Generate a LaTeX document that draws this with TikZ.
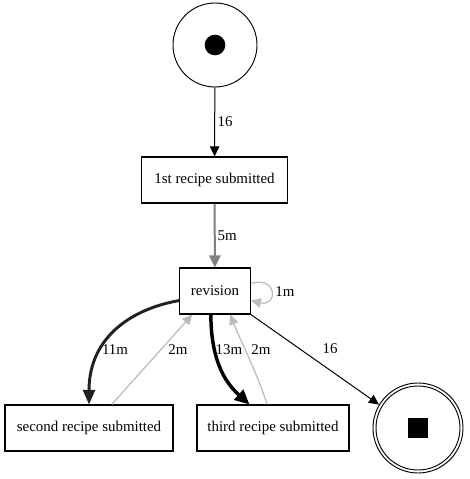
\documentclass[tikz,border=0pt]{standalone}
\usepackage{fontspec}
\setmainfont{Liberation Serif}
\usetikzlibrary{positioning,arrows.meta}

\begin{document}
\begin{tikzpicture}
        [x=0.75pt, y=-0.75pt, font=\rmfamily\fontsize{11.2}{13}\selectfont,
        activity/.style={rectangle, draw=black, line width=0.8pt,
        minimum height=34.5pt, inner sep=2pt},
        place/.style={circle, draw=black, line width=0.7pt, inner sep=0pt},
        flow/.style={draw=black, line width=0.75pt,
        -{Triangle[length=7.5pt, width=7pt]}},
        faint/.style={draw=black!27, line width=0.9pt,
        -{Triangle[length=7.5pt, width=7pt]}},
        lbl/.style={inner sep=1pt}]
        \useasboundingbox (0,0) rectangle (470,479);
        % places
        \node[place, minimum size=63pt] (start) at (215,45) {};
        \node[circle, fill=black, minimum size=15.5pt, inner sep=0pt] (token) at (start) {};
        \node[place, minimum size=67.5pt] (end) at (418,428) {};
        \node[place, minimum size=63pt] (endin) at (end) {};
        \node[rectangle, fill=black, minimum size=15pt, inner sep=0pt] (stop) at (end) {};
        % activities
        \node[activity, minimum width=110pt] (first) at (214.5,180) {1st recipe submitted};
        \node[activity, minimum width=53pt] (rev) at (215,291) {revision};
        \node[activity, minimum width=126pt] (second) at (89,428) {second recipe submitted};
        \node[activity, minimum width=114pt] (third) at (273,428) {third recipe submitted};
        % arcs
        \draw[flow] (start) -- (first);
        \draw[flow, draw=black!50, line width=1.5pt,
            -{Triangle[length=9pt, width=8.5pt]}] (first) -- (rev);
        \draw[faint] (rev.12) .. controls (278,276) and (278,307) .. (rev.345);
        \draw[flow, draw=black!87, line width=2.2pt,
            -{Triangle[length=11pt, width=9pt]}]
            (rev.195) .. controls (135,308) and (89,335) .. (second.north);
        \draw[faint] (second.46) -- (rev.226);
        \draw[flow, line width=2.6pt, -{Triangle[length=11pt, width=10pt]}]
            (rev.260) .. controls (211,365) and (228,385) .. (third.135);
        \draw[faint] (third.104) .. controls (256,370) and (238,335) .. (rev.303);
        \draw[flow] (rev.south east) -- (end.149);
        % labels
        \node[lbl, anchor=west] (l1) at (216,122) {16};
        \node[lbl, anchor=west] (l2) at (216,236) {5m};
        \node[lbl] (l3) at (285,292) {1m};
        \node[lbl] (l4) at (115,350) {11m};
        \node[lbl] (l5) at (178,350) {2m};
        \node[lbl] (l6) at (229,350) {13m};
        \node[lbl] (l7) at (261,350) {2m};
        \node[lbl] (l8) at (330,349) {16};
\end{tikzpicture}
\end{document}
